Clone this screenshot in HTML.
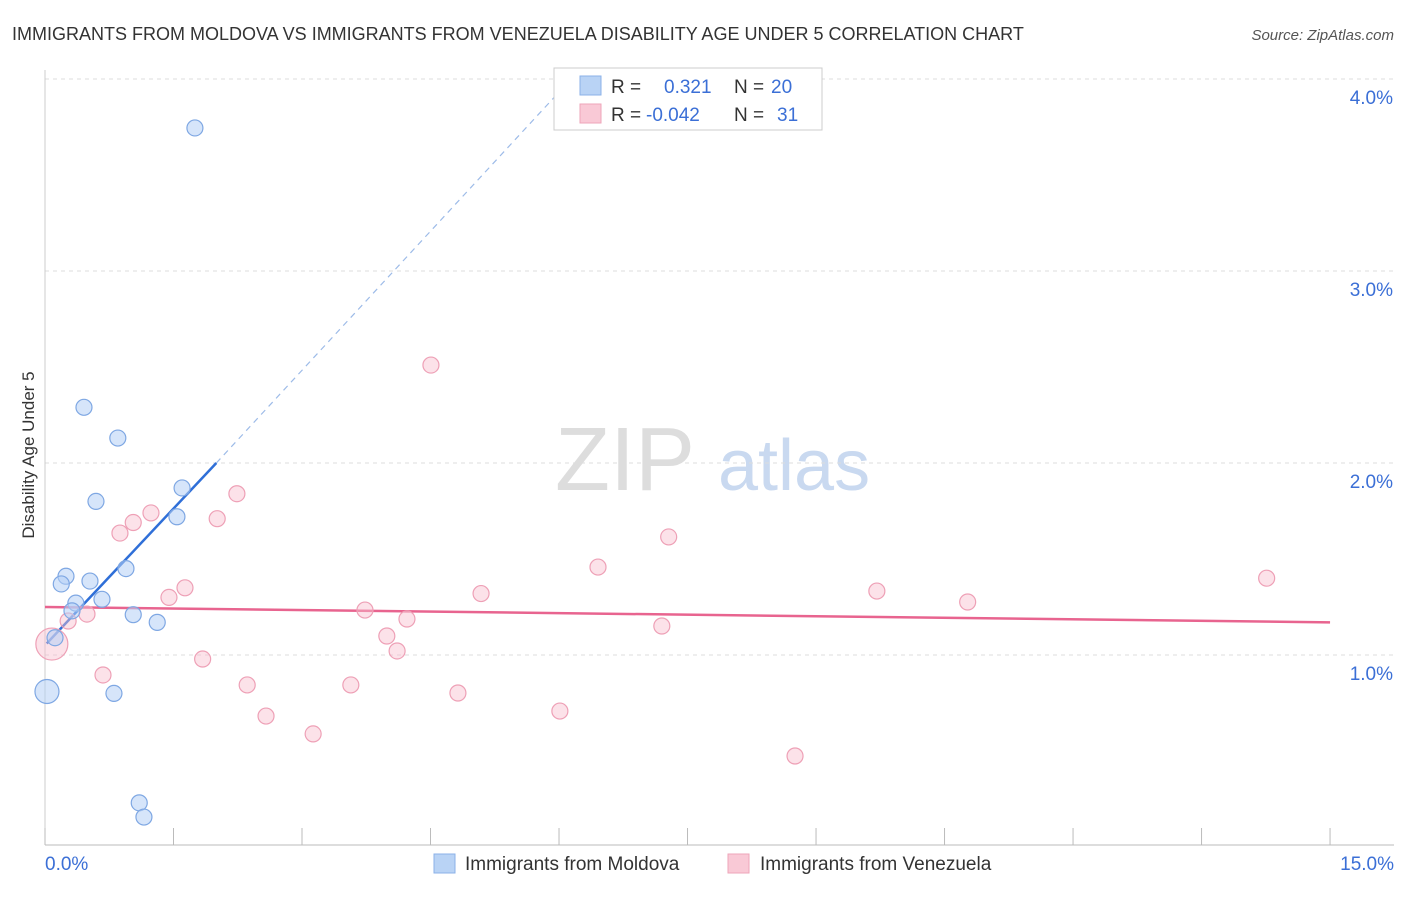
<!DOCTYPE html>
<html><head><meta charset="utf-8"><style>
body{margin:0;background:#fff;font-family:"Liberation Sans",sans-serif;}
svg text{font-family:"Liberation Sans",sans-serif;}
</style></head><body>
<svg id="c" width="1406" height="892" xmlns="http://www.w3.org/2000/svg">
<text x="12" y="40" font-size="18" fill="#333">IMMIGRANTS FROM MOLDOVA VS IMMIGRANTS FROM VENEZUELA DISABILITY AGE UNDER 5 CORRELATION CHART</text>
<text x="1394" y="40" font-size="15" fill="#555" text-anchor="end" font-style="italic">Source: ZipAtlas.com</text>
<text x="34" y="455" font-size="17" fill="#333" text-anchor="middle" transform="rotate(-90 34 455)">Disability Age Under 5</text>
<g><text x="555" y="490" font-size="90" fill="#ddd" font-family="Liberation Serif,serif">ZIP</text><text x="718" y="490" font-size="72" fill="#c9d9f0">atlas</text></g>
<g id="grid"></g><g id="axes"></g><g id="lines"></g><g id="pts"></g>
<g>
<rect x="554" y="68" width="268" height="62" fill="#fff" stroke="#ccc"/>
<rect x="580" y="76" width="21" height="19" fill="#b9d3f5" stroke="#8bb2e8"/>
<rect x="580" y="104" width="21" height="19" fill="#f9c9d6" stroke="#eea5b9"/>
<text x="611" y="93" font-size="19" fill="#333">R = <tspan fill="#3b6fd6" x="664">0.321</tspan><tspan fill="#333" x="734">N = </tspan><tspan fill="#3b6fd6" x="771">20</tspan></text>
<text x="611" y="121" font-size="19" fill="#333">R = <tspan fill="#3b6fd6" x="646">-0.042</tspan><tspan fill="#333" x="734">N = </tspan><tspan fill="#3b6fd6" x="777">31</tspan></text>
</g>
<g>
<rect x="434" y="854" width="21" height="19" fill="#b9d3f5" stroke="#8bb2e8"/>
<text x="465" y="870" font-size="19" fill="#333">Immigrants from Moldova</text>
<rect x="728" y="854" width="21" height="19" fill="#f9c9d6" stroke="#eea5b9"/>
<text x="760" y="870" font-size="19" fill="#333">Immigrants from Venezuela</text>
</g>
</svg>
<script>
const yTicks=[1,2,3,4];
const xTickLabels=["0.0%","15.0%"];
const moldovaX=[1.75,0.455,0.85,0.595,1.6,1.54,0.945,0.245,0.19,0.525,0.36,0.665,0.315,1.03,1.31,0.117,0.023,0.805,1.10,1.155];
const moldovaY=[3.745,2.29,2.13,1.80,1.87,1.72,1.45,1.41,1.37,1.385,1.27,1.29,1.23,1.21,1.17,1.09,0.81,0.80,0.23,0.156];
const venezX=[4.505,2.24,1.237,1.03,2.01,0.875,7.28,6.455,14.26,1.634,1.447,5.09,9.71,10.77,3.735,0.49,0.27,4.225,7.20,3.99,4.11,0.08,1.84,0.677,2.36,3.57,4.82,2.58,6.01,3.13,8.755];
const venezY=[2.51,1.84,1.74,1.69,1.71,1.635,1.615,1.458,1.40,1.35,1.30,1.32,1.333,1.276,1.234,1.213,1.177,1.1875,1.151,1.099,1.021,1.057,0.979,0.896,0.844,0.844,0.802,0.682,0.708,0.589,0.474];
const moldovaTrend=[[0.02,1.06],[2.0,2.0],[6.1,3.98]];
const venezTrend=[[0,1.25],[15,1.17]];
const NS="http://www.w3.org/2000/svg";
const X=v=>45+v*85.67, Y=v=>847-v*192;
function mk(t,a,p){const e=document.createElementNS(NS,t);for(const k in a)e.setAttribute(k,a[k]);p.appendChild(e);return e;}
const grid=document.getElementById('grid'),axes=document.getElementById('axes'),lines=document.getElementById('lines'),pts=document.getElementById('pts');
yTicks.forEach(t=>{
 const l=mk('line',{x1:45,x2:1394,y1:Y(t),y2:Y(t),stroke:'#ddd','stroke-dasharray':'4,4'},grid);
 
 
 const tx=mk('text',{x:1393,y:Y(t)+25,'font-size':19,fill:'#3b6fd6','text-anchor':'end'},axes);
 tx.textContent=t.toFixed(1)+'%';
 
 
});
mk('line',{x1:45,x2:1394,y1:845,y2:845,stroke:'#bbb'},axes);
mk('line',{x1:45,x2:45,y1:70,y2:845,stroke:'#ccc'},axes);
for(let i=0;i<=10;i++){const t=mk('line',{x1:X(i*1.5),x2:X(i*1.5),y1:828,y2:845,stroke:'#bbb'},axes);
 
 }
[[0,'start',45],[1,'end',1394]].forEach(([i,a,x])=>{const t=mk('text',{x:x,y:870,'font-size':19,fill:'#3b6fd6','text-anchor':a},axes);t.textContent=xTickLabels[i];
 
 });
const b1=mk('line',{x1:X(moldovaTrend[0][0]),y1:Y(moldovaTrend[0][1]),x2:X(moldovaTrend[1][0]),y2:Y(moldovaTrend[1][1]),stroke:'#2f6fd8','stroke-width':2.5},lines);


const b2=mk('line',{x1:X(moldovaTrend[1][0]),y1:Y(moldovaTrend[1][1]),x2:X(moldovaTrend[2][0]),y2:Y(moldovaTrend[2][1]),stroke:'#9dbbe8','stroke-width':1.2,'stroke-dasharray':'6,5'},lines);


const p1=mk('line',{x1:X(venezTrend[0][0]),y1:Y(venezTrend[0][1]),x2:X(venezTrend[1][0]),y2:Y(venezTrend[1][1]),stroke:'#e8648f','stroke-width':2.5},lines);


venezX.forEach((x,i)=>{const c=mk('circle',{cx:X(x),cy:Y(venezY[i]),r:i==21?16:8,fill:'rgba(248,190,207,0.45)',stroke:'#eea0b6','stroke-width':1.2},pts);
 
 });
moldovaX.forEach((x,i)=>{const c=mk('circle',{cx:X(x),cy:Y(moldovaY[i]),r:i==16?12:8,fill:'rgba(180,207,245,0.55)',stroke:'#7ea7e3','stroke-width':1.2},pts);
 
 });
</script>
</body></html>
